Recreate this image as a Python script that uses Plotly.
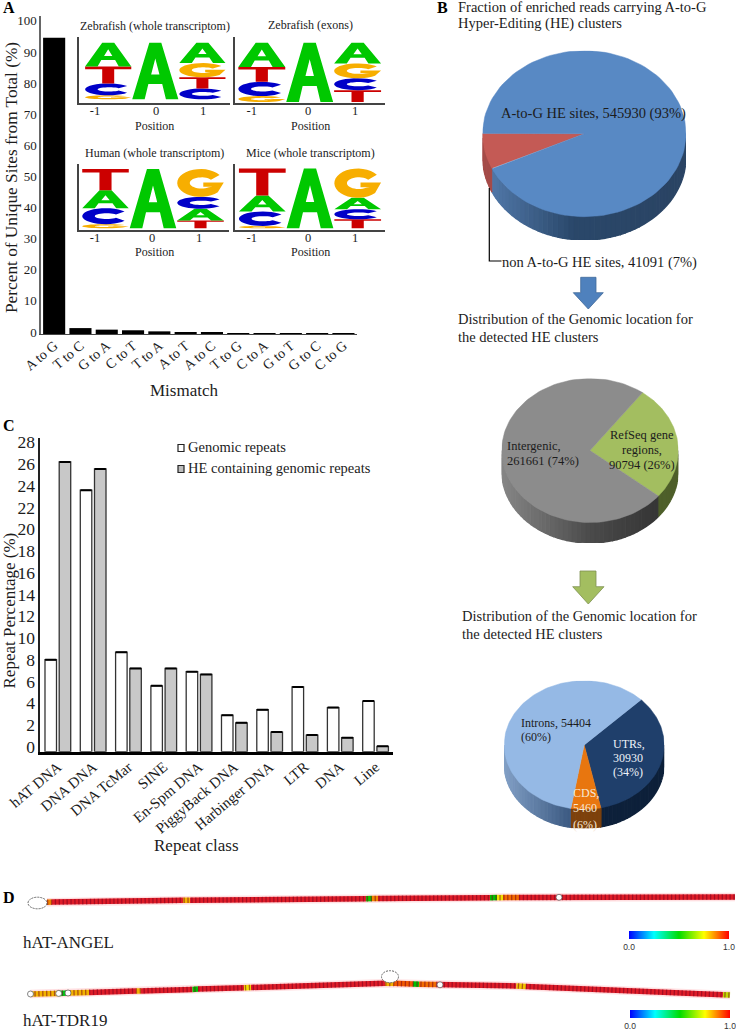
import numpy as np
import plotly.graph_objects as go

W, H = 736, 1030
SERIF = "Liberation Serif"
INK = "#1c1c1c"

# ---- Panel A data
mismatch = ["A to G", "T to C", "G to A", "C to T", "T to A", "A to T", "A to C", "T to G", "C to A", "G to T", "G to C", "C to G"]
mismatch_pct = [95.2, 1.9, 1.4, 1.2, 0.85, 0.65, 0.45, 0.3, 0.2, 0.15, 0.1, 0.08]
a_ticks = [0, 10, 20, 30, 40, 50, 60, 70, 80, 90, 100]

# ---- Sequence logos (bottom-to-top letter shares per position)
zf_whole = {-1: [("G", .07), ("C", .21), ("T", .30), ("A", .42)], 0: [("A", 1.0)], 1: [("C", .19), ("T", .20), ("G", .25), ("A", .36)]}
zf_exons = {-1: [("G", .10), ("C", .24), ("T", .25), ("A", .41)], 0: [("A", 1.0)], 1: [("T", .20), ("C", .20), ("G", .25), ("A", .35)]}
human = {-1: [("G", .07), ("C", .27), ("A", .30), ("T", .36)], 0: [("A", 1.0)], 1: [("T", .13), ("A", .20), ("C", .20), ("G", .47)]}
mice = {-1: [("G", .04), ("C", .24), ("A", .27), ("T", .45)], 0: [("A", 1.0)], 1: [("T", .15), ("C", .17), ("A", .19), ("G", .49)]}
logo_colors = {"A": "#00c800", "T": "#cc0000", "C": "#0000c8", "G": "#f7ae00"}

# ---- Panel C data
repeat_class = ["hAT DNA", "DNA DNA", "DNA TcMar", "SINE", "En-Spm DNA", "PiggyBack DNA", "Harbinger DNA", "LTR", "DNA", "Line"]
genomic_repeats = [8.0, 23.6, 8.7, 5.6, 6.9, 2.9, 3.4, 5.5, 3.6, 4.2]
he_repeats = [26.2, 25.55, 7.2, 7.2, 6.65, 2.2, 1.35, 1.07, 0.83, 0.03]
c_ticks = list(range(0, 29, 2))

# ---- Pies
pie_b_values = [41091, 545930]
pie_b_colors = ["#c45a55", "#5889c4"]
pie_g_values = [90794, 261661]
pie_g_colors = ["#a3be60", "#8c8c8c"]
pie_r_values = [30930, 5460, 54404]
pie_r_colors = ["#1f3f6b", "#e8760f", "#95b9e5"]

# ---- Panel D strands: knots, value per run between knots
angel_x = [47, 52, 183, 190, 366, 372, 378, 490, 497, 503, 519, 735]
angel_y = [902.2, 902.1, 900.3, 900.2, 898.8, 898.6, 898.5, 897.7, 897.6, 897.6, 897.5, 897.0]
angel_p = [.85, .98, .8, .98, .52, .85, .98, .5, .75, .88, .98]
tdr_x = [30.5, 58.7, 68, 89.2, 136, 141, 192.5, 198, 244, 251, 385, 394, 413, 419, 436.6, 516.4, 526, 610, 723, 730]
tdr_y = [994, 993.4, 993, 992.4, 991, 991, 989.4, 989.1, 987.8, 987.5, 983.3, 983.3, 983.9, 984.2, 984.6, 985.9, 986.5, 990, 994.7, 995]
tdr_p = [.8, .48, .8, .98, .8, .98, .5, .98, .75, .98, .8, .9, .5, .88, .98, .78, .98, .98, .7]
open_x = [559, 30.5, 58.7, 68, 440]
open_y = [897.3, 994, 993.4, 993, 984.8]
prob_stops = [(0, (0, 0, 255)), (.25, (0, 255, 255)), (.5, (0, 220, 0)), (.75, (255, 255, 0)), (1, (255, 0, 0))]
prob_scale = [[s, "rgb(%d,%d,%d)" % c] for s, c in prob_stops]


def xd(a, b):
    return [a / W, b / W]


def yd(top, bottom):
    return [1 - bottom / H, 1 - top / H]


fig = go.Figure()
annotations, shapes = [], []
layout_axes = {}


def label(x, y, text, size=14.5, anchor="left", color=INK, bold=False, family=SERIF):
    annotations.append(dict(xref="x10", yref="y10", x=x, y=y, text="<b>%s</b>" % text if bold else text,
                            showarrow=False, xanchor=anchor, yanchor="middle", align="left", borderpad=0, borderwidth=0,
                            font=dict(family=family, size=size, color=color)))


# Canvas axis in picture units (labels, arrows, strands)
layout_axes["xaxis10"] = dict(domain=[0, 1], range=[0, W], visible=False, anchor="y10", fixedrange=True)
layout_axes["yaxis10"] = dict(domain=[0, 1], range=[H, 0], visible=False, anchor="x10", fixedrange=True)

# ------------------- Panel A (tick labels sit 2 px above their grid position, as in the figure)
A_LABEL_LIFT = 0.64
fig.add_trace(go.Bar(x=mismatch, y=mismatch_pct,
                     marker=dict(color="black", line=dict(width=0)), width=0.84, hoverinfo="skip",
                     xaxis="x", yaxis="y"))
layout_axes["xaxis"] = dict(domain=xd(41, 356.6), anchor="y", showline=True, linecolor="#444", linewidth=1.2,
                            type="category", categoryorder="array", categoryarray=mismatch,
                            tickangle=-40, ticks="", showgrid=False, ticklabelstandoff=-3,
                            tickfont=dict(family=SERIF, size=14, color=INK))
layout_axes["yaxis"] = dict(domain=yd(16, 334), anchor="x", range=[0, 102.2], showline=True, linecolor="#666",
                            linewidth=1.5, tickvals=[t + A_LABEL_LIFT for t in a_ticks], ticktext=[str(t) for t in a_ticks],
                            ticks="", showgrid=False, zeroline=False,
                            tickfont=dict(family=SERIF, size=13, color=INK))
label(11, 178, "Percent of Unique Sites from Total (%)", 17.3, "center")
annotations[-1]["textangle"] = -90
label(184, 390, "Mismatch", 17, "center")
label(3, 7, "A", 16, bold=True, color="black")


# ------------------- Logos
def arc(cx, cy, rx, ry, a0, a1, n=28):
    t = np.radians(np.linspace(a0, a1, n))
    return list(zip(cx + rx * np.cos(t), cy + ry * np.sin(t)))


def glyph(letter):
    if letter == "A":
        return [[(0, 0), (.37, 1), (.63, 1), (1, 0), (.73, 0), (.65, .27), (.35, .27), (.27, 0)],
                [(.41, .44), (.59, .44), (.5, .72)]]
    if letter == "T":
        return [[(0, 1), (1, 1), (1, .84), (.63, .84), (.63, 0), (.37, 0), (.37, .84), (0, .84)]]
    if letter == "C":
        return [arc(.5, .5, .5, .5, 35, 325) + arc(.52, .5, .25, .18, 325, 35)]
    outer = arc(.5, .5, .5, .5, 35, 318)
    inner = arc(.52, .5, .25, .2, 310, 35)
    return [outer + [(1, .52), (.56, .52), (.56, .36), (.76, .36)] + inner]


def add_logo(idx, stacks, left, right, ax_top, ax_bot, let_top, let_bot, c0, sp, tick_px):
    xa, ya = "x%d" % idx, "y%d" % idx
    hgt = let_bot - let_top
    layout_axes["xaxis%d" % idx] = dict(domain=xd(left, right), range=[(left - c0) / sp, (right - c0) / sp], anchor=ya,
                                        showline=True, linecolor="#444", linewidth=1.5, ticks="", showgrid=False,
                                        zeroline=False, tickvals=[(p - c0) / sp for p in tick_px], ticklabelstandoff=-5,
                                        ticktext=["-1", "0", "1"], tickfont=dict(family=SERIF, size=12.5, color=INK))
    layout_axes["yaxis%d" % idx] = dict(domain=yd(ax_top, ax_bot), range=[(let_bot - ax_bot) / hgt, (let_bot - ax_top) / hgt],
                                        anchor=xa, showline=True, linecolor="#444", linewidth=1.5, showticklabels=False,
                                        ticks="", showgrid=False, zeroline=False)
    for pos, stack in stacks.items():
        base = 0.0
        for letter, share in stack:
            d = ""
            for ring in glyph(letter):
                pts = [(pos - .49 + .98 * px, base + share * py) for px, py in ring]
                d += "M" + "L".join("%.4f,%.4f" % p for p in pts) + "Z"
            shapes.append(dict(type="path", path=d, xref=xa, yref=ya, fillcolor=logo_colors[letter],
                               line=dict(width=0), layer="above"))
            base += share


add_logo(2, zf_whole, 79.3, 230, 37.3, 103.3, 42.7, 99.3, 155.3, 47.1, [95, 156, 203])
add_logo(3, zf_exons, 235.3, 385, 37.3, 103.3, 42.7, 102, 309.7, 47.9, [251.7, 308, 355])
add_logo(4, human, 79.3, 229.3, 164, 230, 169, 228.3, 153, 47.5, [95, 152, 199])
add_logo(5, mice, 235.3, 385, 164, 230, 168.5, 228.3, 310, 47.7, [251.7, 308, 355])
for cx, y, t in [(154.5, 26, "Zebrafish (whole transcriptom)"), (310, 25, "Zebrafish (exons)"),
                 (154.5, 153, "Human (whole transcriptom)"), (310, 153, "Mice (whole transcriptom)")]:
    label(cx, y, t, 12, "center")
for cx, y in [(154.5, 125.5), (310, 125.5), (154.5, 252), (310, 252)]:
    label(cx, y, "Position", 12, "center")

# ------------------- Panel C
FLOOR_C = -0.46
for name, vals, col in [("Genomic repeats", genomic_repeats, "white"), ("HE containing genomic repeats", he_repeats, "#c8c8c8")]:
    fig.add_trace(go.Bar(name=name, x=repeat_class, y=[v - FLOOR_C for v in vals], base=[FLOOR_C] * len(vals),
                         marker=dict(color=col, line=dict(color="#333", width=1.3)),
                         error_y=dict(type="data", symmetric=False, array=[0] * len(vals), arrayminus=[0] * len(vals),
                                      thickness=2, width=5.6, color="black"),
                         hoverinfo="skip", xaxis="x6", yaxis="y6"))
layout_axes["xaxis6"] = dict(domain=xd(40.2, 393.2), anchor="y6", showline=True, linecolor="black", linewidth=2.5,
                             type="category", categoryorder="array", categoryarray=repeat_class, tickangle=-40,
                             ticks="", showgrid=False, ticklabelstandoff=-2, tickfont=dict(family=SERIF, size=15, color=INK))
layout_axes["yaxis6"] = dict(domain=yd(437.7, 751.7), anchor="x6", range=[FLOOR_C, 28.43], showline=True, linecolor="#222",
                             linewidth=1.5, tickvals=c_ticks, ticks="", showgrid=False, zeroline=False,
                             tickfont=dict(family=SERIF, size=17.5, color=INK))
label(8.5, 611, "Repeat Percentage (%)", 17, "center")
annotations[-1]["textangle"] = -90
label(196, 845, "Repeat class", 17, "center")
label(3, 425, "C", 16, bold=True, color="black")
for y, col, t in [(448, "white", "Genomic repeats"), (469, "#bdbdbd", "HE containing genomic repeats")]:
    shapes.append(dict(type="rect", xref="x10", yref="y10", x0=178, x1=184, y0=y - 3.5, y1=y + 3.5,
                       fillcolor=col, line=dict(color="#222", width=1.2), layer="above"))
    label(188, y - 1.5, t, 14.5)


# ------------------- Pies
def mix(stops, x):
    xs = [s[0] for s in stops]
    return "rgb(%d,%d,%d)" % tuple(np.interp(x, xs, [s[1][k] for s in stops]) for k in range(3))


def add_pie(idx, values, colors, start, cx, cy, rx, ry, depth, wall_fns):
    xa, ya = "x%d" % idx, "y%d" % idx
    d = depth / ry
    layout_axes["xaxis%d" % idx] = dict(domain=xd(cx - rx, cx + rx), range=[-1, 1], visible=False, anchor=ya, fixedrange=True)
    layout_axes["yaxis%d" % idx] = dict(domain=yd(cy - ry, cy + ry + depth), range=[-1 - d, 1], visible=False, anchor=xa, fixedrange=True)
    total = float(sum(values))
    edges = [start]
    for v in values:
        edges.append(edges[-1] + 360 * v / total)

    def owner(th):
        for k in range(len(values)):
            for off in (0, 360, -360):
                if edges[k] <= th + off < edges[k + 1]:
                    return k
        return 0

    walls = [float(e % 360) for e in edges if 0 < e % 360 < 180]
    bounds = sorted(set(list(np.arange(0, 181, 3.0)) + walls))
    for a0, a1 in zip(bounds[:-1], bounds[1:]):
        mid = (a0 + a1) / 2
        t = np.radians(np.linspace(a0, a1, 4))
        px, py = np.cos(t), -np.sin(t)
        col = wall_fns[owner(mid)](np.cos(np.radians(mid)))
        fig.add_trace(go.Scatter(x=np.r_[px, px[::-1]], y=np.r_[py, py[::-1] - d], mode="lines", fill="toself",
                                 fillcolor=col, line=dict(color=col, width=1.4), hoverinfo="skip", xaxis=xa, yaxis=ya,
                                 cliponaxis=False))
    for k in range(len(values)):
        t = np.radians(np.linspace(edges[k], edges[k + 1], 120))
        fig.add_trace(go.Scatter(x=np.r_[0, np.cos(t), 0], y=np.r_[0, -np.sin(t), 0], mode="lines", fill="toself",
                                 fillcolor=colors[k], line=dict(color=colors[k], width=.5), hoverinfo="skip", xaxis=xa, yaxis=ya,
                                 cliponaxis=False))


blue_wall = [(-1, (85, 125, 175)), (-.1, (42, 72, 106)), (1, (42, 68, 100))]
add_pie(7, pie_b_values, pie_b_colors, 155, 584.3, 133.7, 101.7, 83, 23.3,
        [lambda x: "rgb(165,75,72)", lambda x: mix(blue_wall, x)])
gray_wall = [(-1, (135, 135, 135)), (0, (75, 75, 75)), (.7, (55, 55, 55)), (1, (55, 55, 55))]
add_pie(8, pie_g_values, pie_g_colors, -53.5, 590, 450.5, 88.3, 72, 20.5,
        [lambda x: "rgb(78,95,42)", lambda x: mix(gray_wall, x)])
int_wall = [(-1, (130, 160, 198)), (-.2, (62, 92, 132))]
add_pie(9, pie_r_values, pie_r_colors, -44.7, 584.2, 745, 80, 64.3, 19,
        [lambda x: "rgb(13,32,58)", lambda x: "rgb(125,65,12)", lambda x: mix(int_wall, x)])

label(437, 7, "B", 16, bold=True, color="black")
label(458, 7, "Fraction of enriched reads carrying A-to-G", 14.5)
label(458, 23.5, "Hyper-Editing (HE) clusters", 14.5)
label(500.7, 113.5, "A-to-G HE sites, 545930 (93%)", 14.5)
label(502, 262, "non A-to-G HE sites, 41091 (7%)", 14.5)
label(458, 319, "Distribution of the Genomic location for", 14.5)
label(458, 337, "the detected HE clusters", 14.5)
label(461.7, 615.7, "Distribution of the Genomic location for", 14.5)
label(461.7, 633.5, "the detected HE clusters", 14.5)
label(507, 445.7, "Intergenic,", 12.5)
label(507, 461, "261661 (74%)", 12.5)
for y, t in [(435, "RefSeq gene"), (450, "regions,"), (465, "90794 (26%)")]:
    label(642, y, t, 12.5, "center")
label(520.7, 722.7, "Introns, 54404", 12)
label(520.7, 736.7, "(60%)", 12)
for y, t in [(744, "UTRs,"), (758, "30930"), (772, "(34%)")]:
    label(613, y, t, 12, color="#eef2f8")
for y, t in [(793, "CDS,"), (807.7, "5460"), (825, "(6%)")]:
    label(572.5, y, t, 12, color="#f6e7d6")

# Leader line and arrows
shapes.append(dict(type="path", path="M489.3,188 L489.3,261 L501.5,261", xref="x10", yref="y10",
                   line=dict(color="black", width=1.2), layer="above"))
shapes.append(dict(type="path", path="M580.7,277.3 L596,277.3 L596,292.7 L603.3,292.7 L588.3,309 L573.3,292.7 L580.7,292.7 Z",
                   xref="x10", yref="y10", fillcolor="#4f81bd", line=dict(color="#41699a", width=.8), layer="above"))
shapes.append(dict(type="path", path="M580,571 L596,571 L596,586.7 L604,586.7 L588.3,604 L572.7,586.7 L580,586.7 Z",
                   xref="x10", yref="y10", fillcolor="#a3be60", line=dict(color="#7d9150", width=.8), layer="above"))


# ------------------- Panel D
def prob_color(p):
    r, g, b = [np.interp(p, [s[0] for s in prob_stops], [s[1][k] for s in prob_stops]) for k in range(3)]
    if p > .95:
        return "rgb(222,28,40)"
    return "rgb(%d,%d,%d)" % (r * .95, g * .88, b)


def add_strand(xs, ys, ps, cb_x, cb_y):
    fig.add_trace(go.Scatter(x=xs, y=ys, mode="lines", line=dict(color="rgba(255,80,90,.18)", width=8.5),
                             hoverinfo="skip", xaxis="x10", yaxis="y10"))
    for i, p in enumerate(ps):
        fig.add_trace(go.Scatter(x=xs[i:i + 2], y=ys[i:i + 2], mode="lines", line=dict(color=prob_color(p), width=5.5),
                                 hoverinfo="skip", xaxis="x10", yaxis="y10"))
    fig.add_trace(go.Scatter(x=xs, y=ys, mode="lines", line=dict(color="rgba(120,0,30,.55)", width=5.5, dash="1.3px,2.6px"),
                             hoverinfo="skip", xaxis="x10", yaxis="y10"))
    fig.add_trace(go.Scatter(x=xs[:-1], y=ys[:-1], mode="markers", hoverinfo="skip", xaxis="x10", yaxis="y10",
                             marker=dict(size=1, opacity=0, color=ps, cmin=0, cmax=1, colorscale=prob_scale, showscale=True,
                                         colorbar=dict(orientation="h", x=cb_x / W, xanchor="left", y=1 - cb_y / H, yanchor="bottom",
                                                       len=100, lenmode="pixels", thickness=8, thicknessmode="pixels",
                                                       xpad=0, ypad=0, outlinewidth=0, ticks="", tickvals=[0.0005, 0.9995],
                                                       ticktext=["0.0", "1.0"], ticklabelposition="outside bottom",
                                                       ticklabeloverflow="allow",
                                                       tickfont=dict(family="Liberation Sans", size=8.5, color="#333")))))


add_strand(angel_x, angel_y, angel_p, 629, 949.2)
add_strand(tdr_x, tdr_y, tdr_p, 630, 1028.4)
fig.add_trace(go.Scatter(x=open_x, y=open_y, mode="markers", hoverinfo="skip", xaxis="x10", yaxis="y10",
                         marker=dict(size=6, color="white", line=dict(color="#666", width=.8))))
for cx, cy, rx, ry in [(37.5, 903, 9.5, 5.8), (390, 976.7, 8.5, 6)]:
    shapes.append(dict(type="circle", xref="x10", yref="y10", x0=cx - rx, x1=cx + rx, y0=cy - ry, y1=cy + ry,
                       fillcolor="white", line=dict(color="#666", width=1, dash="2px,1px"), layer="above"))
label(3, 897, "D", 16, bold=True, color="black")
label(22.5, 942, "hAT-ANGEL", 17)
label(22.5, 1020, "hAT-TDR19", 17)

fig.update_layout(width=W, height=H, margin=dict(l=0, r=0, t=0, b=0, pad=0, autoexpand=False), paper_bgcolor="white", plot_bgcolor="rgba(0,0,0,0)",
                  showlegend=False, barmode="group", bargap=.195, bargroupgap=.19, annotations=annotations, shapes=shapes,
                  **layout_axes)
fig.write_html("out.html", config={"displayModeBar": False},
               post_script="document.body.style.margin='0';document.body.style.overflow='hidden';")
